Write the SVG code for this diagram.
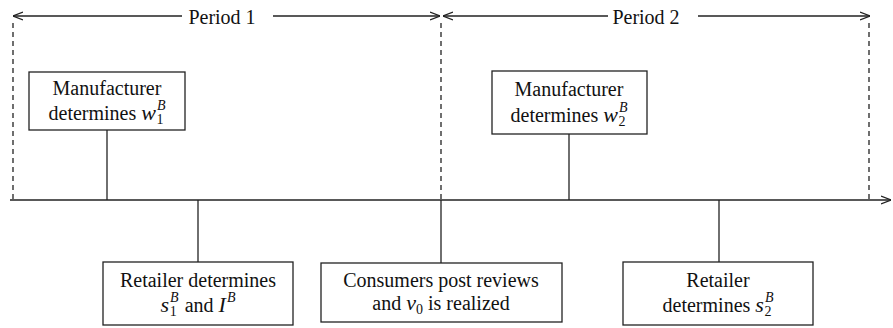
<svg xmlns="http://www.w3.org/2000/svg" width="893" height="328" viewBox="0 0 893 328">
<style>
.ln{stroke:#222;stroke-width:1.3;fill:none}
.dash{stroke:#222;stroke-width:1.3;fill:none;stroke-dasharray:5,4}
.box{fill:#fff;stroke:#222;stroke-width:1.3}
.t{font-family:"Liberation Serif","Times New Roman",serif;font-size:20px;fill:#111}
.m{font-family:"Liberation Serif","Times New Roman",serif;font-style:italic;font-size:22px}
.s{font-family:"Liberation Serif","Times New Roman",serif;font-size:14px}
.si{font-family:"Liberation Serif","Times New Roman",serif;font-style:italic;font-size:14px}
</style>
<defs>
<marker id="ah" viewBox="0 0 10 10" refX="10" refY="5" markerWidth="10" markerHeight="10" markerUnits="userSpaceOnUse" orient="auto-start-reverse">
<path d="M0,1 L10,5 L0,9" fill="none" stroke="#222" stroke-width="1.2"/>
</marker>
</defs>
<g id="connectors">
<line class="ln" x1="10" y1="200" x2="891" y2="200" marker-end="url(#ah)"/>
<line class="ln" x1="13" y1="16" x2="182" y2="16" marker-start="url(#ah)"/>
<line class="ln" x1="273" y1="16" x2="440" y2="16" marker-end="url(#ah)"/>
<line class="ln" x1="443" y1="16" x2="608" y2="16" marker-start="url(#ah)"/>
<line class="ln" x1="698" y1="16" x2="870" y2="16" marker-end="url(#ah)"/>
<line class="dash" x1="13" y1="23" x2="13" y2="200"/>
<line class="dash" x1="441" y1="23" x2="441" y2="200"/>
<line class="dash" x1="869" y1="23" x2="869" y2="200"/>
<line class="ln" x1="107" y1="130" x2="107" y2="200"/>
<line class="ln" x1="569" y1="134" x2="569" y2="200"/>
<line class="ln" x1="198" y1="200" x2="198" y2="262"/>
<line class="ln" x1="441" y1="200" x2="441" y2="263"/>
<line class="ln" x1="719" y1="200" x2="719" y2="262"/>
</g>
<g id="period1"><text class="t" x="222" y="24" text-anchor="middle">Period 1</text></g>
<g id="period2"><text class="t" x="646" y="24" text-anchor="middle">Period 2</text></g>
<g id="manufacturer1">
<rect class="box" x="29" y="72" width="156" height="58"/>
<text class="t" x="107" y="95" text-anchor="middle">Manufacturer</text>
<text class="t" x="107" y="120" text-anchor="middle">determines <tspan class="m">w</tspan><tspan class="si" dx="1" dy="-10">B</tspan><tspan class="s" dx="-9" dy="14">1</tspan></text>
</g>
<g id="manufacturer2">
<rect class="box" x="492" y="71" width="155" height="63"/>
<text class="t" x="569" y="96" text-anchor="middle">Manufacturer</text>
<text class="t" x="569" y="122" text-anchor="middle">determines <tspan class="m">w</tspan><tspan class="si" dx="1" dy="-10">B</tspan><tspan class="s" dx="-9" dy="14">2</tspan></text>
</g>
<g id="retailer1">
<rect class="box" x="103" y="262" width="190" height="63"/>
<text class="t" x="198" y="287" text-anchor="middle">Retailer determines</text>
<text class="t" x="198" y="312" text-anchor="middle"><tspan class="m">s</tspan><tspan class="si" dx="1" dy="-10">B</tspan><tspan class="s" dx="-9" dy="14">1</tspan><tspan dx="3" dy="-4"> and </tspan><tspan class="m">I</tspan><tspan class="si" dx="1" dy="-10">B</tspan></text>
</g>
<g id="consumers">
<rect class="box" x="321" y="263" width="241" height="59"/>
<text class="t" x="441" y="287" text-anchor="middle">Consumers post reviews</text>
<text class="t" x="441" y="310" text-anchor="middle">and <tspan class="m">v</tspan><tspan class="s" dy="4">0</tspan><tspan dy="-4"> is realized</tspan></text>
</g>
<g id="retailer2">
<rect class="box" x="623" y="262" width="190" height="63"/>
<text class="t" x="718" y="287" text-anchor="middle">Retailer</text>
<text class="t" x="718" y="312" text-anchor="middle">determines <tspan class="m">s</tspan><tspan class="si" dx="1" dy="-10">B</tspan><tspan class="s" dx="-9" dy="14">2</tspan></text>
</g>
</svg>
